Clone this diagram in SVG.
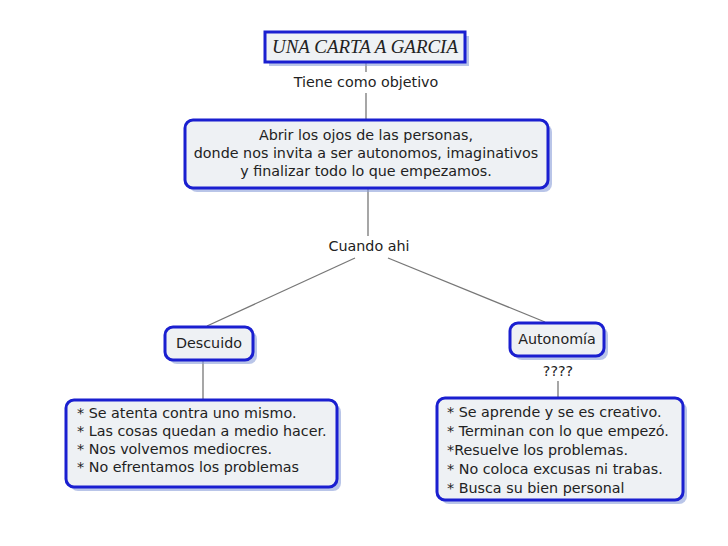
<svg xmlns="http://www.w3.org/2000/svg" width="728" height="546" viewBox="0 0 728 546">
<defs><style>
.box{fill:#eef1f4;stroke:#1a1fd0;stroke-width:3}
.sh{fill:#8a9fd8;opacity:0.6}
.t{font-family:"DejaVu Sans",Verdana,sans-serif;font-size:14.3px;fill:#222}
.c{text-anchor:middle}
.ln{stroke:#777;stroke-width:1.3;fill:none}
</style></defs>
<rect width="728" height="546" fill="#fff"/>
<g id="connectors">
<line class="ln" x1="366" y1="63" x2="366" y2="72"/>
<line class="ln" x1="366" y1="93" x2="366" y2="120"/>
<line class="ln" x1="368" y1="189" x2="368" y2="236"/>
<line class="ln" x1="355" y1="258" x2="207" y2="326"/>
<line class="ln" x1="388" y1="258" x2="545" y2="322"/>
<line class="ln" x1="203" y1="361" x2="203" y2="400"/>
<line class="ln" x1="558" y1="381" x2="558" y2="397"/>
</g>
<g id="title">
<rect class="sh" x="269" y="36" width="200" height="30"/>
<rect class="box" x="265" y="32" width="200" height="30"/>
<text x="365" y="53" class="c" style="font-family:'Liberation Serif',serif;font-style:italic;font-size:18px;fill:#222" textLength="186" lengthAdjust="spacingAndGlyphs">UNA CARTA A GARCIA</text>
</g>
<g id="l1"><text class="t c" x="366" y="87">Tiene como objetivo</text></g>
<g id="main">
<rect class="sh" x="189" y="124" width="363" height="68" rx="8"/>
<rect class="box" x="185" y="120" width="363" height="68" rx="8"/>
<text class="t c" x="366" y="140">Abrir los ojos de las personas,</text>
<text class="t c" x="366" y="158">donde nos invita a ser autonomos, imaginativos</text>
<text class="t c" x="366" y="176">y finalizar todo lo que empezamos.</text>
</g>
<g id="l2"><text class="t c" x="369" y="251">Cuando ahi</text></g>
<g id="descuido">
<rect class="sh" x="169" y="331" width="88" height="33" rx="8"/>
<rect class="box" x="165" y="327" width="88" height="33" rx="8"/>
<text class="t c" x="209" y="348">Descuido</text>
</g>
<g id="autonomia">
<rect class="sh" x="514" y="327" width="94" height="33" rx="8"/>
<rect class="box" x="510" y="323" width="94" height="33" rx="8"/>
<text class="t c" x="557" y="344">Autonomía</text>
</g>
<g id="l3"><text class="t c" x="558" y="376">????</text></g>
<g id="left">
<rect class="sh" x="70" y="404" width="271" height="87" rx="8"/>
<rect class="box" x="66" y="400" width="271" height="87" rx="8"/>
<text class="t" x="77" y="418">* Se atenta contra uno mismo.</text>
<text class="t" x="77" y="436">* Las cosas quedan a medio hacer.</text>
<text class="t" x="77" y="454">* Nos volvemos mediocres.</text>
<text class="t" x="77" y="472">* No efrentamos los problemas</text>
</g>
<g id="right">
<rect class="sh" x="441" y="402" width="246" height="102" rx="8"/>
<rect class="box" x="437" y="398" width="246" height="102" rx="8"/>
<text class="t" x="447" y="417">* Se aprende y se es creativo.</text>
<text class="t" x="447" y="436">* Terminan con lo que empezó.</text>
<text class="t" x="447" y="455">*Resuelve los problemas.</text>
<text class="t" x="447" y="474">* No coloca excusas ni trabas.</text>
<text class="t" x="447" y="493">* Busca su bien personal</text>
</g>
</svg>
